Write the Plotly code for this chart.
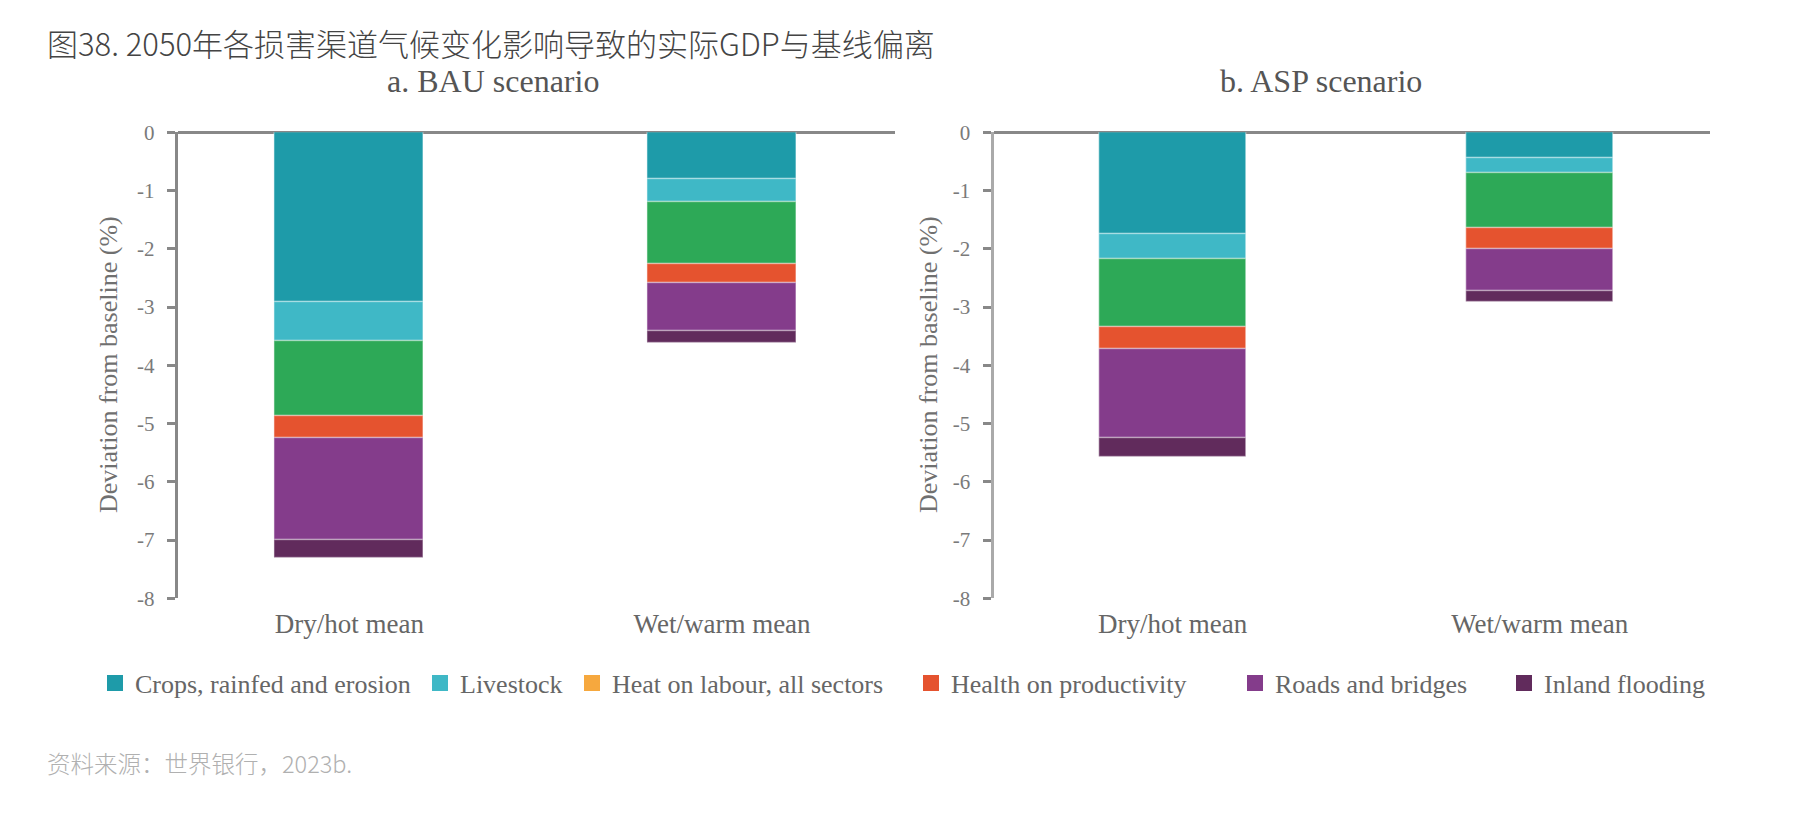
import plotly.graph_objects as go

# ---------------- data ----------------
categories = ["Dry/hot mean", "Wet/warm mean"]
channels = ["Crops, rainfed and erosion", "Livestock", "Heat on labour, all sectors",
            "Health on productivity", "Roads and bridges", "Inland flooding"]

bau_crops = [-2.92, -0.80]
bau_livestock = [-0.66, -0.40]
bau_heat = [-1.30, -1.06]
bau_health = [-0.37, -0.33]
bau_roads = [-1.75, -0.82]
bau_flood = [-0.31, -0.21]

asp_crops = [-1.75, -0.45]
asp_livestock = [-0.43, -0.25]
asp_heat = [-1.16, -0.94]
asp_health = [-0.39, -0.37]
asp_roads = [-1.52, -0.72]
asp_flood = [-0.33, -0.19]

y_ticks = [0, -1, -2, -3, -4, -5, -6, -7, -8]

# ---------------- styles ----------------
bar_colors = ["#1e9ba9", "#3fb8c6", "#2da957", "#e5532f", "#843c8b", "#612b5c"]
legend_colors = ["#1e9ba9", "#3fb8c6", "#f6a83e", "#e5532f", "#843c8b", "#612b5c"]
SERIF = "Liberation Serif, Times New Roman, serif"
CJK = "Noto Sans CJK SC, sans-serif"
W, H = 1793, 815

fig = go.Figure()

bau = [bau_crops, bau_livestock, bau_heat, bau_health, bau_roads, bau_flood]
asp = [asp_crops, asp_livestock, asp_heat, asp_health, asp_roads, asp_flood]

for series, xa, ya in [(bau, "x", "y"), (asp, "x2", "y2")]:
    for name, vals, col in zip(channels, series, bar_colors):
        fig.add_trace(go.Bar(
            x=categories, y=vals, name=name, xaxis=xa, yaxis=ya,
            marker=dict(color=col, line=dict(color="rgba(255,255,255,0.35)", width=1.5)),
            width=0.40, showlegend=False, hoverinfo="name+y",
        ))

# legend proxies (one legend per item so they can be spaced like the original)
legend_x_px = [95, 420, 572, 911, 1235, 1504]
for i, (name, col) in enumerate(zip(channels, legend_colors)):
    lg = "legend" if i == 0 else f"legend{i+1}"
    fig.add_trace(go.Scatter(
        x=[None], y=[None], mode="markers", name=name, legend=lg,
        marker=dict(symbol="square", size=16, color=col),
        xaxis="x", yaxis="y", showlegend=True,
    ))

legend_common = dict(orientation="h", y=1 - 683 / H, yanchor="middle", xanchor="left",
                     bgcolor="rgba(0,0,0,0)", font=dict(family=SERIF, size=26, color="#666666"))
layout_legends = {}
for i, px in enumerate(legend_x_px):
    key = "legend" if i == 0 else f"legend{i+1}"
    layout_legends[key] = dict(legend_common, x=px / W)

y_dom = [1 - 598.3 / H, 1 - 132.3 / H]

def yaxis_style(linecolor):
    return dict(
        range=[-8, 0], tickvals=y_ticks, ticktext=[str(v) for v in y_ticks],
        showgrid=False, zeroline=True, zerolinecolor="#888888", zerolinewidth=3,
        showline=True, linecolor=linecolor, linewidth=3,
        ticks="outside", ticklen=8, tickwidth=3, tickcolor="#888888",
        ticklabelstandoff=8, automargin=False,
        tickfont=dict(family=SERIF, size=21, color="#7a7a7a"),
        domain=y_dom,
    )

def xaxis_style(dom, rng, anchor):
    return dict(
        domain=dom, range=rng, anchor=anchor, showgrid=False, zeroline=False,
        showline=False, ticks="", ticklabelstandoff=7, automargin=False,
        tickfont=dict(family=SERIF, size=27, color="#666666"),
    )

annotations = [
    dict(text="图38. 2050年各损害渠道气候变化影响导致的实际GDP与基线偏离", x=45 / W, y=1 - 42 / H,
         xref="paper", yref="paper", xanchor="left", yanchor="middle", showarrow=False,
         font=dict(family=CJK, size=31, color="#444444", weight=300)),
    dict(text="a. BAU scenario", x=493 / W, y=1 - 81 / H, xref="paper", yref="paper",
         xanchor="center", yanchor="middle", showarrow=False,
         font=dict(family=SERIF, size=32, color="#555555")),
    dict(text="b. ASP scenario", x=1321 / W, y=1 - 81 / H, xref="paper", yref="paper",
         xanchor="center", yanchor="middle", showarrow=False,
         font=dict(family=SERIF, size=32, color="#555555")),
    dict(text="Deviation from baseline (%)", x=108 / W, y=1 - 365 / H, xref="paper", yref="paper",
         xanchor="center", yanchor="middle", textangle=-90, showarrow=False,
         font=dict(family=SERIF, size=26, color="#707070")),
    dict(text="Deviation from baseline (%)", x=928 / W, y=1 - 365 / H, xref="paper", yref="paper",
         xanchor="center", yanchor="middle", textangle=-90, showarrow=False,
         font=dict(family=SERIF, size=26, color="#707070")),
    dict(text="资料来源：世界银行，2023b.", x=45 / W, y=1 - 763 / H, xref="paper", yref="paper",
         xanchor="left", yanchor="middle", showarrow=False,
         font=dict(family=CJK, size=23.5, color="#b0b0b0", weight=300)),
]

fig.update_layout(
    width=W, height=H, margin=dict(l=0, r=0, t=0, b=0, autoexpand=False),
    paper_bgcolor="white", plot_bgcolor="white",
    barmode="relative", bargap=0,
    xaxis=xaxis_style([177.7 / W, 895 / W], [-0.461, 1.464], "y"),
    yaxis=dict(yaxis_style("#888888"), anchor="x"),
    xaxis2=xaxis_style([993.5 / W, 1710 / W], [-0.488, 1.464], "y2"),
    yaxis2=dict(yaxis_style("#aaaaaa"), anchor="x2"),
    annotations=annotations,
    **layout_legends,
)

fig.write_html("out.html")
